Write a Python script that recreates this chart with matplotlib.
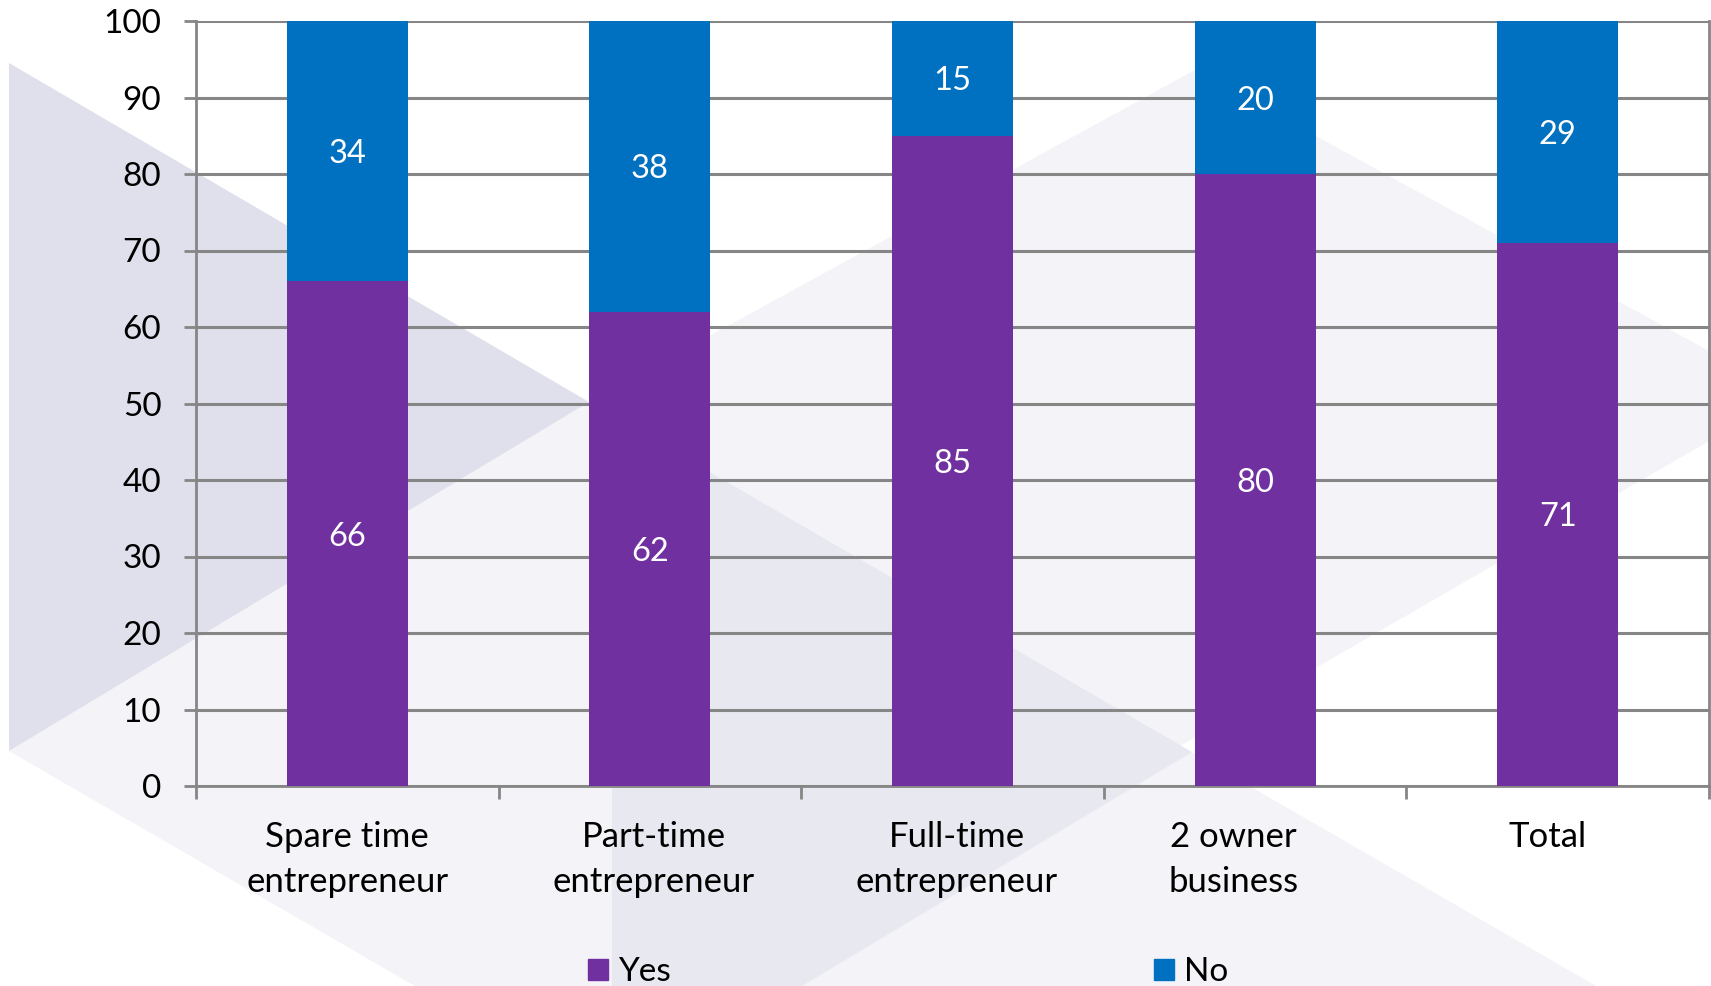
import matplotlib
matplotlib.use("Agg")
import matplotlib.pyplot as plt
import matplotlib.transforms as mtransforms
from matplotlib.patches import Polygon, Patch
import numpy as np

plt.rcParams["font.family"] = ["Lato", "DejaVu Sans"]

categories = ["Spare time\nentrepreneur", "Part-time\nentrepreneur",
              "Full-time\nentrepreneur", "2 owner\nbusiness", "Total"]
yes_vals = [66, 62, 85, 80, 71]
no_vals = [34, 38, 15, 20, 29]
yticks = [0, 10, 20, 30, 40, 50, 60, 70, 80, 90, 100]

PURPLE = "#7030A0"
BLUE = "#0070C0"
GRID = "#868686"

W, H = 1711, 986
fig = plt.figure(figsize=(W / 100, H / 100), dpi=100, facecolor="white")

# faint decorative background shapes (pixel coords, y down)
bg = fig.add_axes([0, 0, 1, 1], zorder=0)
bg.set_xlim(0, W)
bg.set_ylim(H, 0)
bg.axis("off")
shapes = [
    ([(9, 751), (589, 402), (1195, 70), (1711, 352), (1711, 440),
      (1180, 746), (1596, 986), (415, 986)], "#f3f3f8"),
    ([(589, 402), (1192, 752), (802, 986), (612, 986), (612, 416)], "#e8e9f0"),
    ([(9, 63), (589, 402), (9, 751)], "#dfe0ec"),
]
for pts, col in shapes:
    bg.add_patch(Polygon(pts, closed=True, facecolor=col, edgecolor="none"))

ax = fig.add_axes([196 / W, 1 - 786 / H, (1709 - 196) / W, (786 - 21) / H], zorder=1)
ax.patch.set_alpha(0)

x = np.arange(len(categories))
ax.bar(x, yes_vals, width=0.4, color=PURPLE, zorder=3, label="Yes")
ax.bar(x, no_vals, width=0.4, bottom=yes_vals, color=BLUE, zorder=3, label="No")

for i in range(len(categories)):
    ax.text(x[i], yes_vals[i] / 2, str(yes_vals[i]), ha="center",
            va="center_baseline", color="white", fontsize=23.5, zorder=4)
    ax.text(x[i], yes_vals[i] + no_vals[i] / 2, str(no_vals[i]), ha="center",
            va="center_baseline", color="white", fontsize=23.5, zorder=4)

ax.set_xlim(-0.5, len(categories) - 0.5)
ax.set_ylim(0, 100)
ax.set_yticks(yticks)
ax.yaxis.grid(True, color=GRID, linewidth=2.2, zorder=1)
ax.set_axisbelow(True)

ax.set_xticks(x)
ax.set_xticklabels(categories, fontsize=25, linespacing=1.5)
ax.set_xticks(np.arange(-0.5, len(categories)), minor=True)
ax.tick_params(axis="x", which="major", length=0, pad=25)
ax.tick_params(axis="x", which="minor", length=9, width=2, color=GRID)
ax.tick_params(axis="y", length=9, width=2, color=GRID, pad=16, labelsize=24)

# excel nudges some wrapped labels a little sideways
nudges = [0, 4, 4, -22, -10]
for lbl, dx in zip(ax.get_xticklabels(), nudges):
    off = mtransforms.ScaledTranslation(dx / 100, 0, fig.dpi_scale_trans)
    lbl.set_transform(lbl.get_transform() + off)

for side in ["left", "bottom", "right"]:
    ax.spines[side].set_color(GRID)
    ax.spines[side].set_linewidth(2)
ax.spines["top"].set_visible(False)

handles = [Patch(color=PURPLE, label="Yes"), Patch(color=BLUE, label="No")]
fig.legend(handles=handles, loc="center", bbox_to_anchor=(0.531, 0.014),
           ncol=2, frameon=False, fontsize=24, handlelength=0.6,
           handleheight=0.6, handletextpad=0.3, columnspacing=14.5)

fig.savefig("out.png", dpi=100, facecolor="white")
